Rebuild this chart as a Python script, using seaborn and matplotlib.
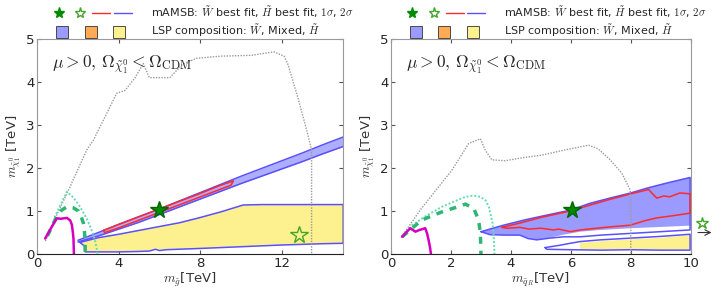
import matplotlib
matplotlib.use("Agg")
import matplotlib.pyplot as plt
import seaborn as sns
from matplotlib.lines import Line2D
from matplotlib.legend_handler import HandlerTuple

# ---------------- data: left panel (gluino mass) ----------------
gray_l_x = [0.4, 1.0, 1.5, 2.43, 2.76, 3.9, 4.3, 4.8, 5.2, 5.5, 6.5, 7.1, 7.8, 9.0, 10.5, 11.6, 12.1, 12.3, 12.8, 13.2, 13.45, 13.45]
gray_l_y = [0.3, 0.95, 1.45, 2.42, 2.65, 3.74, 3.8, 4.1, 4.43, 4.1, 4.1, 4.4, 4.55, 4.6, 4.62, 4.7, 4.6, 4.4, 3.6, 2.9, 2.42, 0.0]

mag_l_x = [0.39, 0.7, 0.96, 1.15, 1.46, 1.62, 1.7, 1.75, 1.78, 1.8]
mag_l_y = [0.36, 0.62, 0.83, 0.82, 0.84, 0.78, 0.68, 0.5, 0.35, 0.0]

dash_l_x = [0.5, 0.9, 1.2, 1.46, 1.75, 2.02, 2.15, 2.27, 2.33, 2.35, 2.35]
dash_l_y = [0.42, 0.82, 1.02, 1.1, 1.08, 1.0, 0.88, 0.71, 0.45, 0.2, 0.0]

dot_l_x = [0.85, 1.2, 1.46, 1.8, 2.1, 2.4, 2.6, 2.75, 2.84, 2.92, 2.96]
dot_l_y = [0.85, 1.2, 1.45, 1.3, 1.1, 0.85, 0.64, 0.45, 0.3, 0.12, 0.0]

# wino 2 sigma band
wband_x = [2.0, 3.0, 4.0, 5.0, 6.0, 7.0, 8.0, 9.0, 10.0, 11.0, 12.0, 13.0, 14.0, 15.0]
wband_up = [0.32, 0.5, 0.69, 0.87, 1.05, 1.24, 1.43, 1.62, 1.81, 1.99, 2.17, 2.35, 2.54, 2.72]
wband_lo = [0.28, 0.42, 0.58, 0.74, 0.92, 1.1, 1.28, 1.46, 1.64, 1.81, 1.98, 2.15, 2.33, 2.5]

# wino 1 sigma contour
red_l_x = [3.25, 4.0, 5.0, 6.0, 7.0, 8.0, 9.0, 9.62, 9.5, 8.0, 7.0, 6.0, 5.0, 4.0, 3.3, 3.25]
red_l_y = [0.55, 0.69, 0.87, 1.05, 1.23, 1.41, 1.6, 1.7, 1.6, 1.33, 1.15, 0.97, 0.79, 0.61, 0.5, 0.55]

# higgsino 2 sigma contour
hig_l_x = [2.1, 3.0, 4.0, 5.0, 6.0, 7.0, 8.0, 9.0, 10.1, 11.0, 12.0, 13.0, 14.0, 15.0,
           15.0, 14.0, 12.0, 10.0, 8.0, 6.3, 6.0, 5.8, 5.5, 5.0, 4.0, 3.0, 2.35, 2.35, 2.1]
hig_l_y = [0.27, 0.38, 0.46, 0.55, 0.64, 0.73, 0.85, 0.98, 1.14, 1.15, 1.15, 1.15, 1.15, 1.15,
           0.25, 0.24, 0.21, 0.17, 0.13, 0.1, 0.08, 0.11, 0.07, 0.06, 0.05, 0.05, 0.05, 0.17, 0.27]

best_w_l = (5.95, 1.02)
best_h_l = (12.85, 0.44)

# ---------------- data: right panel (squark mass) ----------------
gray_r_x = [0.35, 1.0, 2.03, 2.59, 2.98, 3.14, 3.36, 3.81, 4.4, 5.03, 5.8, 6.59, 6.9, 7.3, 7.7, 7.98, 8.0, 8.0]
gray_r_y = [0.4, 1.05, 1.95, 2.57, 2.68, 2.42, 2.19, 2.17, 2.24, 2.3, 2.42, 2.53, 2.45, 2.2, 1.88, 1.49, 1.2, 0.0]

mag_r_x = [0.37, 0.5, 0.64, 0.81, 0.95, 1.14, 1.2, 1.25, 1.3, 1.33]
mag_r_y = [0.4, 0.5, 0.6, 0.52, 0.56, 0.6, 0.48, 0.33, 0.15, 0.0]

dash_r_x = [0.37, 0.7, 1.03, 1.4, 1.7, 2.1, 2.48, 2.76, 2.92, 2.98, 3.0]
dash_r_y = [0.4, 0.6, 0.79, 0.9, 0.98, 1.07, 1.16, 1.06, 0.79, 0.48, 0.0]

dot_r_x = [0.45, 0.7, 1.2, 1.7, 2.1, 2.48, 2.75, 2.98, 3.15, 3.26, 3.39, 3.43, 3.45]
dot_r_y = [0.45, 0.67, 0.9, 1.1, 1.22, 1.33, 1.36, 1.33, 1.25, 1.1, 0.71, 0.35, 0.0]

# wino 2 sigma contour (outline) and its filled part
w_r_x = [3.0, 3.75, 4.5, 5.3, 5.98, 6.64, 7.3, 8.0, 8.53, 9.2, 9.98,
         9.98, 9.0, 8.0, 7.0, 6.31, 5.75, 5.3, 4.86, 4.57, 4.3, 3.8, 3.3, 3.0]
w_r_y = [0.52, 0.67, 0.8, 0.92, 1.02, 1.18, 1.3, 1.42, 1.53, 1.65, 1.78,
         0.56, 0.52, 0.48, 0.44, 0.4, 0.4, 0.37, 0.33, 0.36, 0.44, 0.44, 0.45, 0.52]
w_r_fill_y = [0.52, 0.67, 0.8, 0.92, 1.02, 1.18, 1.3, 1.42, 1.53, 1.65, 1.78,
              0.66, 0.63, 0.6, 0.56, 0.52, 0.45, 0.38, 0.33, 0.36, 0.44, 0.44, 0.45, 0.52]

red_r_x = [3.7, 4.3, 5.0, 5.98, 6.6, 7.3, 8.0, 8.6, 8.7, 8.87, 9.1, 9.3, 9.64, 9.98,
           9.98, 9.5, 8.87, 8.5, 7.98, 7.3, 6.31, 5.98, 5.6, 5.42, 5.0, 4.6, 4.3, 3.87, 3.7]
red_r_y = [0.62, 0.72, 0.85, 1.0, 1.13, 1.27, 1.4, 1.5, 1.42, 1.3, 1.35, 1.33, 1.42, 1.4,
           0.95, 0.9, 0.84, 0.78, 0.67, 0.63, 0.56, 0.52, 0.58, 0.56, 0.6, 0.58, 0.62, 0.6, 0.62]

hig_r_x = [5.14, 5.6, 5.98, 6.31, 7.0, 8.0, 9.0, 9.98, 9.98, 9.0, 8.0, 7.0, 6.0, 5.2, 5.14]
hig_r_y = [0.15, 0.2, 0.25, 0.29, 0.33, 0.37, 0.41, 0.46, 0.09, 0.09, 0.1, 0.09, 0.1, 0.11, 0.15]
yel_r_x = [6.3, 7.0, 8.0, 9.0, 9.98, 9.98, 6.3]
yel_r_y = [0.26, 0.3, 0.34, 0.38, 0.44, 0.1, 0.1]

best_w_r = (6.03, 1.02)
best_h_r = (10.37, 0.72)   # off the plot, drawn with an arrow

# ---------------- style ----------------
BLUE = "#5a50ff"
BLUE_FILL = "#9a9aff"
BLUE_LIGHT = "#aeaeff"
YELLOW = "#fdf08e"
ORANGE = "#ffaa55"
RED = "#ff2a2a"
MAGENTA = "#d400c0"
GREEN_D = "#2fb574"
GREEN_T = "#66dbb0"
GRAY = "#9a9a9a"

sns.set_style("ticks")
plt.rcParams["mathtext.fontset"] = "cm"
plt.rcParams["font.family"] = ["DejaVu Sans"]

fig = plt.figure(figsize=(7.15, 2.93), dpi=100)
ax1 = fig.add_axes([0.052, 0.133, 0.428, 0.734])
ax2 = fig.add_axes([0.547, 0.133, 0.419, 0.734])


def curves(ax, gx, gy, mx, my, dx, dy, tx, ty):
    sns.lineplot(x=gx, y=gy, sort=False, estimator=None, ax=ax, color=GRAY, lw=1.0, ls=(0, (1, 1)))
    sns.lineplot(x=tx, y=ty, sort=False, estimator=None, ax=ax, color=GREEN_T, lw=1.4, ls=(0, (1, 1)))
    sns.lineplot(x=dx, y=dy, sort=False, estimator=None, ax=ax, color=GREEN_D, lw=2.5, ls=(0, (2, 2)))
    sns.lineplot(x=mx, y=my, sort=False, estimator=None, ax=ax, color=MAGENTA, lw=1.8)


# left panel
ax1.fill_between(wband_x, wband_lo, wband_up, color=BLUE_LIGHT, lw=0)
sns.lineplot(x=wband_x, y=wband_up, ax=ax1, color=BLUE, lw=1.1)
sns.lineplot(x=wband_x, y=wband_lo, ax=ax1, color=BLUE, lw=1.1)
ax1.fill(hig_l_x, hig_l_y, color=YELLOW, lw=0)
sns.lineplot(x=hig_l_x, y=hig_l_y, sort=False, estimator=None, ax=ax1, color=BLUE, lw=1.1)
sns.lineplot(x=red_l_x, y=red_l_y, sort=False, estimator=None, ax=ax1, color=RED, lw=1.1)
curves(ax1, gray_l_x, gray_l_y, mag_l_x, mag_l_y, dash_l_x, dash_l_y, dot_l_x, dot_l_y)
ax1.plot(*best_w_l, marker="*", ms=13, color="#008a00", mec="#006600", ls="")
ax1.plot(*best_h_l, marker="*", ms=13, mfc="none", mec="#44a52a", mew=1.0, ls="")

# right panel
ax2.fill(w_r_x, w_r_fill_y, color=BLUE_FILL, lw=0)
ax2.fill(yel_r_x, yel_r_y, color=YELLOW, lw=0)
sns.lineplot(x=w_r_x, y=w_r_y, sort=False, estimator=None, ax=ax2, color=BLUE, lw=1.1)
sns.lineplot(x=hig_r_x, y=hig_r_y, sort=False, estimator=None, ax=ax2, color=BLUE, lw=1.1)
sns.lineplot(x=red_r_x, y=red_r_y, sort=False, estimator=None, ax=ax2, color=RED, lw=1.1)
curves(ax2, gray_r_x, gray_r_y, mag_r_x, mag_r_y, dash_r_x, dash_r_y, dot_r_x, dot_r_y)
ax2.plot(*best_w_r, marker="*", ms=13, color="#008a00", mec="#006600", ls="")
ax2.plot(*best_h_r, marker="*", ms=9, mfc="none", mec="#44a52a", mew=1.0, ls="", clip_on=False)
ax2.annotate("", xy=(best_h_r[0] + 0.42, best_h_r[1] - 0.22), xytext=(best_h_r[0] - 0.22, best_h_r[1] - 0.22),
             arrowprops=dict(arrowstyle="->", color="#333333", lw=0.8), annotation_clip=False)

# axes cosmetics
for ax, xmax, xt, xl in [(ax1, 15, [0, 4, 8, 12], r"$m_{\tilde g}$[TeV]"),
                         (ax2, 10, [0, 2, 4, 6, 8, 10], r"$m_{\tilde q_R}$[TeV]")]:
    ax.set_xlim(0, xmax)
    ax.set_ylim(0, 5)
    ax.set_xticks(xt)
    ax.set_yticks([0, 1, 2, 3, 4, 5])
    ax.tick_params(direction="in", top=True, right=True, labelsize=9.5, length=3,
                   color="#555555", pad=2)
    ax.set_xlabel(xl, fontsize=9.5, labelpad=1, color="#333333")
    ax.set_ylabel(r"$m_{\tilde\chi_1^0}$ [TeV]", fontsize=9.5, labelpad=2, color="#333333")
    for s in ["top", "right", "left"]:
        ax.spines[s].set_color("#999999")
    ax.spines["bottom"].set_color("#222222")
    ax.text(0.05, 0.88, r"$\mu > 0,\, \Omega_{\tilde\chi^0_1} < \Omega_{\rm CDM}$", transform=ax.transAxes,
            fontsize=12.5, va="center", ha="left")

    h1 = (Line2D([], [], marker="*", ms=8, color="#008a00", ls=""),
          Line2D([], [], marker="*", ms=8, mfc="none", mec="#44a52a", ls=""),
          Line2D([], [], color=RED, lw=1),
          Line2D([], [], color=BLUE, lw=1))
    h2 = (Line2D([], [], marker="s", ms=8, mfc=BLUE_FILL, mec="#333333", mew=0.6, ls=""),
          Line2D([], [], marker="s", ms=8, mfc=ORANGE, mec="#333333", mew=0.6, ls=""),
          Line2D([], [], marker="s", ms=8, mfc=YELLOW, mec="#333333", mew=0.6, ls=""))
    ax.legend([h1, h2],
              [r"mAMSB: $\tilde W$ best fit, $\tilde H$ best fit, $1\sigma$, $2\sigma$",
               r"LSP composition: $\tilde W$, Mixed, $\tilde H$"],
              handler_map={tuple: HandlerTuple(ndivide=None, pad=0.3)},
              loc="lower left", bbox_to_anchor=(0.035, 0.99), frameon=False, fontsize=8,
              handlelength=7.4, handletextpad=1.7, borderpad=0.1, borderaxespad=0.05,
              labelspacing=0.2)

fig.savefig("out.png", dpi=100)
